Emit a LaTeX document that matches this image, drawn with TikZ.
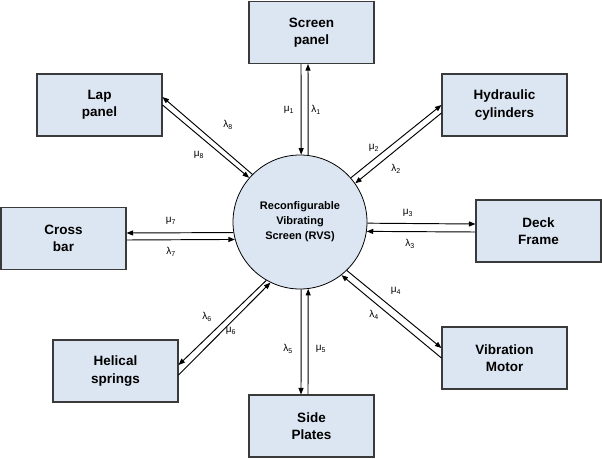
\documentclass[tikz,border=0pt]{standalone}
\usepackage{fontspec}
\setmainfont{Liberation Sans}
\usetikzlibrary{arrows.meta}
\definecolor{boxfill}{HTML}{DCE6F2}
\definecolor{boxline}{HTML}{3A3A3A}
\begin{document}
\begin{tikzpicture}[x=1pt,y=-1pt,
  blk/.style={draw=boxline,fill=boxfill,line width=1.1pt,minimum width=125pt,minimum height=62pt,inner sep=0pt,align=center,font=\fontsize{13.5}{17.5}\selectfont\bfseries},
  hub/.style={circle,draw=black,fill=boxfill,line width=0.8pt,minimum size=134pt,inner sep=0pt,align=center,font=\fontsize{11}{15}\selectfont\bfseries},
  arr/.style={line width=0.95pt,-{Triangle[length=6.5pt,width=5pt]}},
  lbl/.style={font=\fontsize{10}{11}\selectfont,inner sep=0pt}]
\useasboundingbox (0,0) rectangle (602,458);
\node[hub] (rvs) at (300,222) {Reconfigurable\\Vibrating\\Screen (RVS)};
\node[blk] (sp) at (311.5,32.5) {Screen\\panel};
\node[blk] (lp) at (99.5,105) {Lap\\panel};
\node[blk] (hc) at (504.5,105) {Hydraulic\\cylinders};
\node[blk] (cb) at (63.5,238.5) {Cross\\bar};
\node[blk] (df) at (538.5,231) {Deck\\Frame};
\node[blk] (hs) at (115.5,371) {Helical\\springs};
\node[blk] (vm) at (504.5,358) {Vibration\\Motor};
\node[blk] (sd) at (311.5,426) {Side\\Plates};
% Screen panel
\draw[arr] ([xshift=-10.5pt]sp.south) -- (rvs.89);
\draw[arr] (rvs.83) -- ([xshift=-3.5pt]sp.south);
\node[lbl] (m1) at (289,110) {μ\textsubscript{1}};
\node[lbl] (l1) at (316,110) {λ\textsubscript{1}};
% Hydraulic
\draw[arr] (rvs.41.3) -- (hc.west);
\draw[arr] ([yshift=-8pt]hc.west) -- (rvs.35);
\node[lbl] (m2) at (374,148) {μ\textsubscript{2}};
\node[lbl] (l2) at (396,169) {λ\textsubscript{2}};
% Deck frame
\draw[arr] (rvs.-1.7) -- ([yshift=7pt]df.west);
\draw[arr] ([yshift=-1pt]df.west) -- (rvs.-8.6);
\node[lbl] (m3) at (408,213) {μ\textsubscript{3}};
\node[lbl] (l3) at (410,244) {λ\textsubscript{3}};
% Vibration motor
\draw[arr] (rvs.-46.8) -- ([yshift=10pt]vm.west);
\draw[arr] (vm.west) -- (rvs.-52.5);
\node[lbl] (m4) at (396,291) {μ\textsubscript{4}};
\node[lbl] (l4) at (374,315) {λ\textsubscript{4}};
% Side plates
\draw[arr] (rvs.-89) -- ([xshift=-10.5pt]sd.north);
\draw[arr] ([xshift=-3.5pt]sd.north) -- (rvs.-83);
\node[lbl] (l5) at (288,349) {λ\textsubscript{5}};
\node[lbl] (m5) at (321,349) {μ\textsubscript{5}};
% Helical springs
\draw[arr] (rvs.240.4) -- ([yshift=6pt]hs.east);
\draw[arr] ([yshift=-4pt]hs.east) -- (rvs.244.5);
\node[lbl] (l6) at (207,317) {λ\textsubscript{6}};
\node[lbl] (m6) at (231,331) {μ\textsubscript{6}};
% Cross bar
\draw[arr] (rvs.189.4) -- ([yshift=5.5pt]cb.east);
\draw[arr] ([yshift=-1.5pt]cb.east) -- (rvs.195.6);
\node[lbl] (m7) at (171,221) {μ\textsubscript{7}};
\node[lbl] (l7) at (171,252) {λ\textsubscript{7}};
% Lap panel
\draw[arr] (rvs.135.6) -- ([yshift=8pt]lp.east);
\draw[arr] (lp.east) -- (rvs.139.8);
\node[lbl] (l8) at (228,125) {λ\textsubscript{8}};
\node[lbl] (m8) at (199,155) {μ\textsubscript{8}};
\end{tikzpicture}
\end{document}
